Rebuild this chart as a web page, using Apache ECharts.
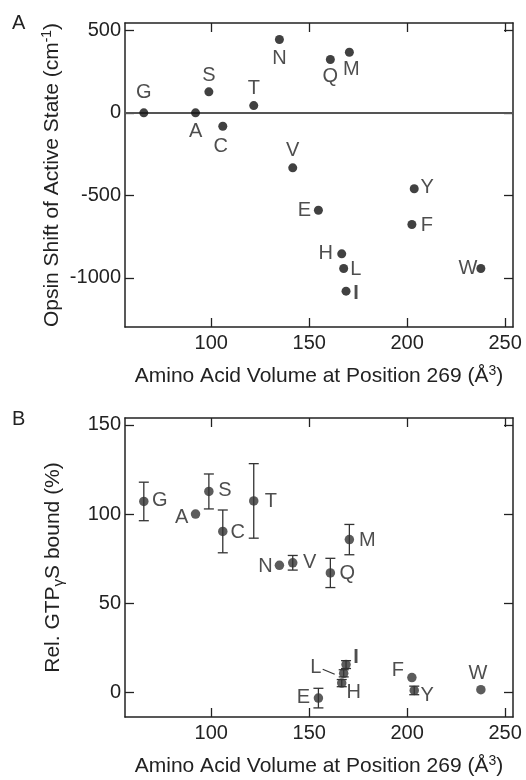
<!DOCTYPE html>
<html>
<head>
<meta charset="utf-8">
<script src="https://cdn.jsdelivr.net/npm/echarts@6/dist/echarts.min.js"></script>
<style>html,body{margin:0;padding:0;background:#fff;}#c{width:526px;height:780px;}</style>
</head>
<body>
<div id="c"></div>
<script>
// ---- data ----
const residues   = ['G','A','S','C','T','N','V','E','Q','H','L','I','M','F','Y','W'];
const volume     = [65.6, 92, 98.8, 105.9, 121.7, 134.8, 141.6, 154.7, 160.8, 166.6, 167.6, 168.8, 170.5, 202.4, 203.6, 237.6];
const opsinShift = [0, 0, 127, -81, 44, 444, -333, -590, 323, -854, -943, -1080, 367, -676, -460, -943];
const gtpBound   = [107.1, 100, 112.7, 90.3, 107.4, 71.3, 72.7, -3.2, 67.0, 5.2, 10.7, 15.6, 85.7, 8.3, 1.1, 1.5];
const gtpError   = [10.8, 0, 9.8, 12, 20.9, 0, 4.1, 5.5, 8.2, 2, 2, 2.2, 8.5, 0, 2.4, 0];
const xTicks  = [100, 150, 200, 250];
const yTicksA = [-1000, -500, 0, 500];
const yTicksB = [0, 50, 100, 150];

// ---- layout (label offsets in px, relative to point centre) ----
const offA = {G:[0,-20],A:[0,19],S:[0,-16],C:[-2,20],T:[0,-17],N:[0,19],V:[0,-17],Q:[0,17],M:[2,17],
              E:[-14,0],H:[-16,0],L:[12,1],I:[10,2],Y:[13,-1],F:[15,1],W:[-13,0]};
const offB = {G:[16,-1],A:[-14,3],S:[16,-1],C:[15,1],T:[17,1],N:[-14,1],V:[17,0],E:[-15,-1],Q:[17,1],
              H:[12,9],L:[-28,-6],I:[10,-7],M:[18,1],F:[-14,-7],Y:[13,5],W:[-3,-16]};

const FONT = 'Liberation Sans, Arial, Helvetica, sans-serif';
const INK = '#222';
const TICKFS = 20, LABFS = 20, TITLEFS = 21;

function bottomAxis(grid, name) {
  return {
    type: 'value', gridIndex: grid, position: 'bottom', min: 56, max: 254,
    axisLine: {show: true, onZero: false, lineStyle: {color: INK, width: 1.5}},
    axisTick: {show: true, inside: true, length: 9, customValues: xTicks, lineStyle: {color: INK, width: 1.3}},
    axisLabel: {show: true, customValues: xTicks, formatter: v => String(v), fontSize: TICKFS, color: INK, fontFamily: FONT, margin: 6},
    splitLine: {show: false},
    name: name, nameLocation: 'middle', nameGap: 37, nameMoveOverlap: false,
    nameTextStyle: {fontSize: TITLEFS, color: INK, fontFamily: FONT, lineHeight: 25,
      rich: {sup: {fontSize: 14, lineHeight: 14, verticalAlign: 'top', color: INK, fontFamily: FONT}}}
  };
}
function topAxis(grid) {
  return {
    type: 'value', gridIndex: grid, position: 'top', min: 56, max: 254,
    axisLine: {show: true, onZero: false, lineStyle: {color: INK, width: 1.5}},
    axisTick: {show: true, inside: true, length: 9, customValues: xTicks, lineStyle: {color: INK, width: 1.3}},
    axisLabel: {show: false}, splitLine: {show: false}
  };
}
function leftAxis(grid, min, max, ticks, name, rich, gap) {
  return {
    type: 'value', gridIndex: grid, position: 'left', min: min, max: max,
    axisLine: {show: true, onZero: false, lineStyle: {color: INK, width: 1.5}},
    axisTick: {show: true, inside: true, length: 9, customValues: ticks, lineStyle: {color: INK, width: 1.3}},
    axisLabel: {show: true, customValues: ticks, formatter: v => String(v), fontSize: TICKFS, color: INK, fontFamily: FONT, margin: 4},
    splitLine: {show: false},
    name: name, nameLocation: 'middle', nameGap: gap, nameMoveOverlap: false,
    nameTextStyle: {fontSize: TITLEFS, color: INK, fontFamily: FONT, lineHeight: 25, rich: rich}
  };
}
function rightAxis(grid, min, max, ticks) {
  return {
    type: 'value', gridIndex: grid, position: 'right', min: min, max: max,
    axisLine: {show: true, onZero: false, lineStyle: {color: INK, width: 1.5}},
    axisTick: {show: true, inside: true, length: 9, customValues: ticks, lineStyle: {color: INK, width: 1.3}},
    axisLabel: {show: false}, splitLine: {show: false}
  };
}

function pts(yvals, offs) {
  return residues.map((r, i) => ({
    name: r, value: [volume[i], yvals[i]],
    label: {offset: offs[r], fontWeight: r === 'I' ? 'bold' : 'normal'}
  }));
}

const chart = echarts.init(document.getElementById('c'), null, {renderer: 'canvas'});
const option = {
  animation: false,
  backgroundColor: '#fff',
  textStyle: {fontFamily: FONT},
  grid: [
    {left: 125, top: 23, width: 388, height: 304},
    {left: 125, top: 418, width: 388, height: 304}
  ],
  xAxis: [
    bottomAxis(0, 'Amino Acid Volume at Position 269 (Å{sup|3})'),
    topAxis(0),
    bottomAxis(1, 'Amino Acid Volume at Position 269 (Å{sup|3})'),
    topAxis(1)
  ],
  yAxis: [
    leftAxis(0, -1297, 544, yTicksA, 'Opsin Shift of Active State (cm{sup|-1})',
      {sup: {fontSize: 14, lineHeight: 14, verticalAlign: 'top', color: INK, fontFamily: FONT}}, 60),
    rightAxis(0, -1297, 544, yTicksA),
    leftAxis(1, -13.8, 153.9, yTicksB, 'Rel. GTP{sub|γ}S bound (%)',
      {sub: {fontSize: 15, lineHeight: 15, verticalAlign: 'bottom', color: INK, fontFamily: FONT}}, 59),
    rightAxis(1, -13.8, 153.9, yTicksB)
  ],
  graphic: [
    {type: 'text', left: 12, top: 13, style: {text: 'A', fontSize: 20, fill: INK, fontFamily: FONT}},
    {type: 'text', left: 12, top: 409, style: {text: 'B', fontSize: 20, fill: INK, fontFamily: FONT}}
  ],
  series: [
    {
      type: 'scatter', xAxisIndex: 0, yAxisIndex: 0, symbol: 'circle', symbolSize: 9,
      itemStyle: {color: '#111'}, z: 5,
      label: {show: true, position: 'inside', formatter: '{b}', fontSize: LABFS, color: INK, fontFamily: FONT,
              align: 'center', verticalAlign: 'middle'},
      data: pts(opsinShift, offA),
      markLine: {
        silent: true, symbol: ['none', 'none'], label: {show: false},
        lineStyle: {color: '#555', width: 2.2, type: 'solid'},
        data: [{yAxis: 0}]
      }
    },
    {
      type: 'custom', xAxisIndex: 2, yAxisIndex: 2, z: 3,
      data: residues.map((r, i) => [volume[i], gtpBound[i], gtpError[i]]),
      renderItem: function (params, api) {
        const x = api.value(0), y = api.value(1), e = api.value(2);
        if (!e) return {type: 'group', children: []};
        const top = api.coord([x, y + e]);
        const bot = api.coord([x, y - e]);
        const cap = 5;
        const st = {stroke: '#333', lineWidth: 1.3};
        return {type: 'group', children: [
          {type: 'line', shape: {x1: top[0], y1: top[1], x2: bot[0], y2: bot[1]}, style: st},
          {type: 'line', shape: {x1: top[0] - cap, y1: top[1], x2: top[0] + cap, y2: top[1]}, style: st},
          {type: 'line', shape: {x1: bot[0] - cap, y1: bot[1], x2: bot[0] + cap, y2: bot[1]}, style: st}
        ]};
      }
    },
    {
      type: 'custom', xAxisIndex: 2, yAxisIndex: 2, z: 3,
      data: [[volume[residues.indexOf('L')], gtpBound[residues.indexOf('L')]]],
      renderItem: function (params, api) {
        const p = api.coord([api.value(0), api.value(1)]);
        return {type: 'line', shape: {x1: p[0] - 21, y1: p[1] - 4, x2: p[0] - 9, y2: p[1] + 1},
                style: {stroke: '#333', lineWidth: 1.2}};
      }
    },
    {
      type: 'scatter', xAxisIndex: 2, yAxisIndex: 2, symbol: 'circle', symbolSize: 9.5,
      itemStyle: {color: '#333'}, z: 5,
      label: {show: true, position: 'inside', formatter: '{b}', fontSize: LABFS, color: INK, fontFamily: FONT,
              align: 'center', verticalAlign: 'middle'},
      data: pts(gtpBound, offB)
    }
  ]
};
chart.setOption(option);
</script>
</body>
</html>
